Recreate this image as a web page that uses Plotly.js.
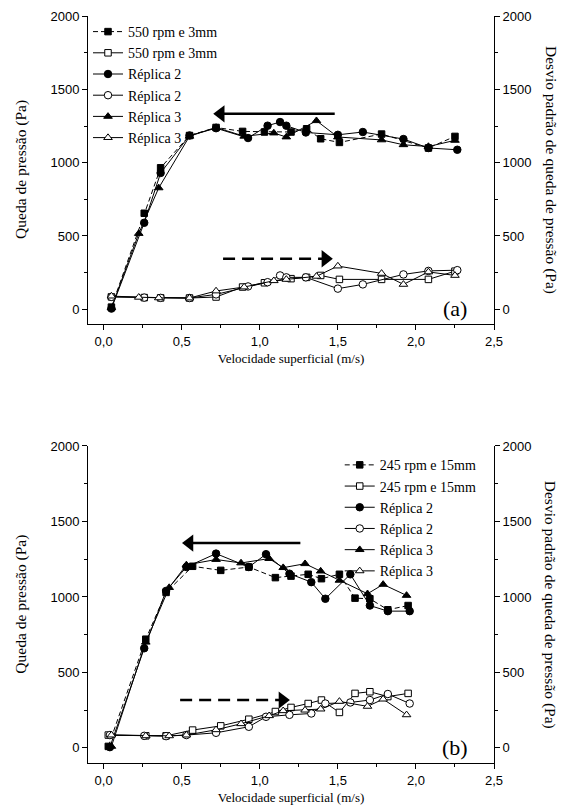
<!DOCTYPE html>
<html><head><meta charset="utf-8">
<script src="https://cdn.plot.ly/plotly-3.0.1.min.js"></script>
<style>html,body{margin:0;padding:0;background:#fff}</style>
</head><body><div id="chart" style="width:569px;height:809px"></div>
<script>
// ---------- Chart (a): 550 rpm e 3mm ----------
const aSqX   = [0.05, 0.26, 0.365, 0.55, 0.72, 0.89, 1.03, 1.2, 1.3, 1.39, 1.51, 1.78, 2.08, 2.25];
const aSqY   = [15, 655, 965, 1185, 1240, 1213, 1209, 1209, 1231, 1163, 1138, 1195, 1100, 1179];
const aSqStd = [85, 80, 78, 77, 84, 152, 181, 209, 218, 231, 204, 204, 204, 260];

const aCiX   = [0.05, 0.26, 0.365, 0.55, 0.72, 0.925, 1.05, 1.13, 1.17, 1.295, 1.5, 1.66, 1.92, 2.08, 2.265];
const aCiY   = [5, 590, 930, 1185, 1235, 1168, 1252, 1277, 1252, 1206, 1190, 1209, 1161, 1100, 1088];
const aCiStd = [85, 80, 78, 77, 102, 156, 185, 231, 218, 218, 141, 170, 238, 262, 267];

const aTrX   = [0.05, 0.225, 0.353, 0.55, 0.72, 0.9, 1.09, 1.17, 1.363, 1.5, 1.78, 1.92, 2.08, 2.25];
const aTrY   = [10, 517, 828, 1180, 1240, 1180, 1202, 1175, 1286, 1175, 1155, 1122, 1110, 1152];
const aTrStd = [90, 82, 78, 77, 125, 152, 195, 204, 225, 295, 245, 170, 255, 231];

// ---------- Chart (b): 245 rpm e 15mm ----------
const bSqX   = [0.03, 0.27, 0.40, 0.57, 0.75, 0.93, 1.10, 1.2, 1.31, 1.395, 1.51, 1.61, 1.705, 1.82, 1.95];
const bSqY   = [10, 720, 1030, 1203, 1176, 1198, 1128, 1138, 1150, 1121, 1150, 992, 988, 915, 943];
const bSqStd = [85, 80, 80, 118, 146, 190, 241, 268, 294, 317, 235, 361, 372, 340, 361];

const bCiX   = [0.04, 0.26, 0.40, 0.53, 0.72, 0.93, 1.04, 1.19, 1.33, 1.42, 1.58, 1.705, 1.82, 1.96];
const bCiY   = [5, 660, 1040, 1198, 1287, 1198, 1283, 1154, 1098, 988, 1150, 943, 906, 906];
const bCiStd = [85, 80, 78, 85, 100, 140, 206, 219, 228, 294, 301, 317, 357, 294];

const bTrX   = [0.05, 0.27, 0.42, 0.53, 0.72, 0.88, 1.06, 1.15, 1.29, 1.39, 1.51, 1.69, 1.79, 1.94];
const bTrY   = [10, 700, 1062, 1212, 1248, 1225, 1254, 1194, 1220, 1171, 1110, 1021, 1083, 1010];
const bTrStd = [85, 80, 80, 85, 120, 160, 213, 246, 250, 257, 308, 275, 323, 219];

// legend labels
const aNames = ['550 rpm e 3mm', '550 rpm e 3mm', 'Réplica 2', 'Réplica 2', 'Réplica 3', 'Réplica 3'];
const bNames = ['245 rpm e 15mm', '245 rpm e 15mm', 'Réplica 2', 'Réplica 2', 'Réplica 3', 'Réplica 3'];

// arrows: [tail x, head x], level y
const aSolidArrowX = [1.48, 0.75], aSolidArrowY = 1333;
const aDashArrowX  = [0.765, 1.42], aDashArrowY = 345;
const bSolidArrowX = [1.26, 0.55], bSolidArrowY = 1357;
const bDashArrowX  = [0.49, 1.145], bDashArrowY = 317;

const SERIF = '"Liberation Serif", "Times New Roman", serif';
const SANS = '"Liberation Sans", Arial, sans-serif';

function series(x, y, name, sym, open, dashed, xa, ya, leg) {
  return {
    x: x, y: y, name: name, type: 'scatter', mode: 'lines+markers',
    xaxis: xa, yaxis: ya, legend: leg,
    line: {color: '#000', width: 1, dash: dashed ? '5px,3px' : 'solid'},
    marker: {symbol: sym, size: sym === 'square' ? 6.5 : 7.5,
             color: open ? '#fff' : '#000', line: {color: '#000', width: 1}},
    cliponaxis: false
  };
}
function arrow(xs, yv, dashed, xa, ya) {
  const head = xs[1];
  const left = head < xs[0];
  return [
    {x: xs, y: [yv, yv], type: 'scatter', mode: 'lines', xaxis: xa, yaxis: ya,
     showlegend: false, hoverinfo: 'skip',
     line: {color: '#000', width: 2.5, dash: dashed ? '12px,7px' : 'solid'}},
    {x: [head], y: [yv], type: 'scatter', mode: 'markers', xaxis: xa, yaxis: ya,
     showlegend: false, hoverinfo: 'skip',
     marker: {symbol: left ? 'triangle-left' : 'triangle-right', size: 15, color: '#000'}}
  ];
}

const traces = [
  series(aSqX, aSqY,   aNames[0], 'square',   false, true,  'x', 'y',  'legend'),
  series(aSqX, aSqStd, aNames[1], 'square',   true,  false, 'x', 'y2', 'legend'),
  series(aCiX, aCiY,   aNames[2], 'circle',   false, false, 'x', 'y',  'legend'),
  series(aCiX, aCiStd, aNames[3], 'circle',   true,  false, 'x', 'y2', 'legend'),
  series(aTrX, aTrY,   aNames[4], 'triangle-up', false, false, 'x', 'y',  'legend'),
  series(aTrX, aTrStd, aNames[5], 'triangle-up', true,  false, 'x', 'y2', 'legend'),
  series(bSqX, bSqY,   bNames[0], 'square',   false, true,  'x2', 'y3', 'legend2'),
  series(bSqX, bSqStd, bNames[1], 'square',   true,  false, 'x2', 'y4', 'legend2'),
  series(bCiX, bCiY,   bNames[2], 'circle',   false, false, 'x2', 'y3', 'legend2'),
  series(bCiX, bCiStd, bNames[3], 'circle',   true,  false, 'x2', 'y4', 'legend2'),
  series(bTrX, bTrY,   bNames[4], 'triangle-up', false, false, 'x2', 'y3', 'legend2'),
  series(bTrX, bTrStd, bNames[5], 'triangle-up', true,  false, 'x2', 'y4', 'legend2'),
  ...arrow(aSolidArrowX, aSolidArrowY, false, 'x', 'y'),
  ...arrow(aDashArrowX, aDashArrowY, true, 'x', 'y'),
  ...arrow(bSolidArrowX, bSolidArrowY, false, 'x2', 'y3'),
  ...arrow(bDashArrowX, bDashArrowY, true, 'x2', 'y3')
];

const tickFont = {family: SANS, size: 13, color: '#000'};
const titleFont = {family: SERIF, size: 13, color: '#000'};
const yTitleFont = {family: SERIF, size: 15.5, color: '#000'};
const legendFont = {family: SERIF, size: 14, color: '#000'};

function xAx(anchor, extra) {
  return Object.assign({
    anchor: anchor, domain: [0, 1], range: [-0.1, 2.5], tick0: 0, dtick: 0.5,
    tickformat: '.1f', ticks: 'outside', ticklen: 5, tickwidth: 1, tickcolor: '#000',
    minor: {dtick: 0.25, tick0: 0, ticks: 'outside', ticklen: 3, tickcolor: '#000'},
    showline: true, linecolor: '#000', linewidth: 1, showgrid: false, zeroline: false,
    tickfont: tickFont,
    title: {text: 'Velocidade superficial (m/s)', font: titleFont, standoff: 6}
  }, extra || {});
}
function xTop(over, anchor) {
  return {overlaying: over, anchor: anchor, side: 'top', range: [-0.1, 2.5], tick0: 0, dtick: 0.5,
    ticks: 'inside', ticklen: 5, tickcolor: '#000',
    minor: {dtick: 0.25, tick0: 0, ticks: 'inside', ticklen: 3, tickcolor: '#000'},
    showticklabels: false, showline: true, linecolor: '#000', linewidth: 1,
    showgrid: false, zeroline: false};
}
function yAx(anchor, dom, side, over) {
  const o = {anchor: anchor, range: [-100, 2000], tick0: 0, dtick: 500,
    ticks: 'outside', ticklen: 5, tickcolor: '#000',
    minor: {dtick: 250, tick0: 0, ticks: 'outside', ticklen: 3, tickcolor: '#000'},
    showline: true, linecolor: '#000', linewidth: 1, showgrid: false, zeroline: false,
    tickfont: tickFont, side: side};
  if (over) o.overlaying = over; else o.domain = dom;
  return o;
}

const topDom = [0.5877, 1];
const botDom = [0, 0.4244];

function yTitle(text, x, y, angle) {
  return {text: text, xref: 'paper', yref: 'paper', x: x, y: y, xanchor: 'center', yanchor: 'middle',
          textangle: angle, showarrow: false, font: yTitleFont};
}

const layout = {
  width: 569, height: 809,
  margin: {l: 88, r: 75, t: 16, b: 46},
  paper_bgcolor: '#fff', plot_bgcolor: '#fff',
  separators: ',.',
  showlegend: true,
  xaxis: xAx('y'),
  xaxis2: xAx('y3'),
  xaxis3: xTop('x', 'y'),
  xaxis4: xTop('x2', 'y3'),
  yaxis: yAx('x', topDom, 'left'),
  yaxis2: yAx('x', null, 'right', 'y'),
  yaxis3: yAx('x2', botDom, 'left'),
  yaxis4: yAx('x2', null, 'right', 'y3'),
  legend: {x: 0, y: 1, xanchor: 'left', yanchor: 'top', bgcolor: 'rgba(0,0,0,0)',
           font: legendFont, itemwidth: 30, tracegroupgap: 0},
  legend2: {x: 0.62, y: 0.42, xanchor: 'left', yanchor: 'top', bgcolor: 'rgba(0,0,0,0)',
            font: legendFont, itemwidth: 30, tracegroupgap: 0},
  annotations: [
    {text: '(a)', xref: 'x', yref: 'y', x: 2.25, y: 5, showarrow: false,
     font: {family: SERIF, size: 22, color: '#000'}},
    {text: '(b)', xref: 'x2', yref: 'y3', x: 2.25, y: 5, showarrow: false,
     font: {family: SERIF, size: 22, color: '#000'}},
    yTitle('Queda de pressão (Pa)', -0.165, 0.794, -90),
    yTitle('Queda de pressão (Pa)', -0.165, 0.212, -90),
    yTitle('Desvio padrão de queda de pressão (Pa)', 1.14, 0.794, 90),
    yTitle('Desvio padrão de queda de pressão (Pa)', 1.14, 0.212, 90)
  ]
};

Plotly.newPlot('chart', traces, layout, {staticPlot: true, displayModeBar: false});
</script>
</body></html>
